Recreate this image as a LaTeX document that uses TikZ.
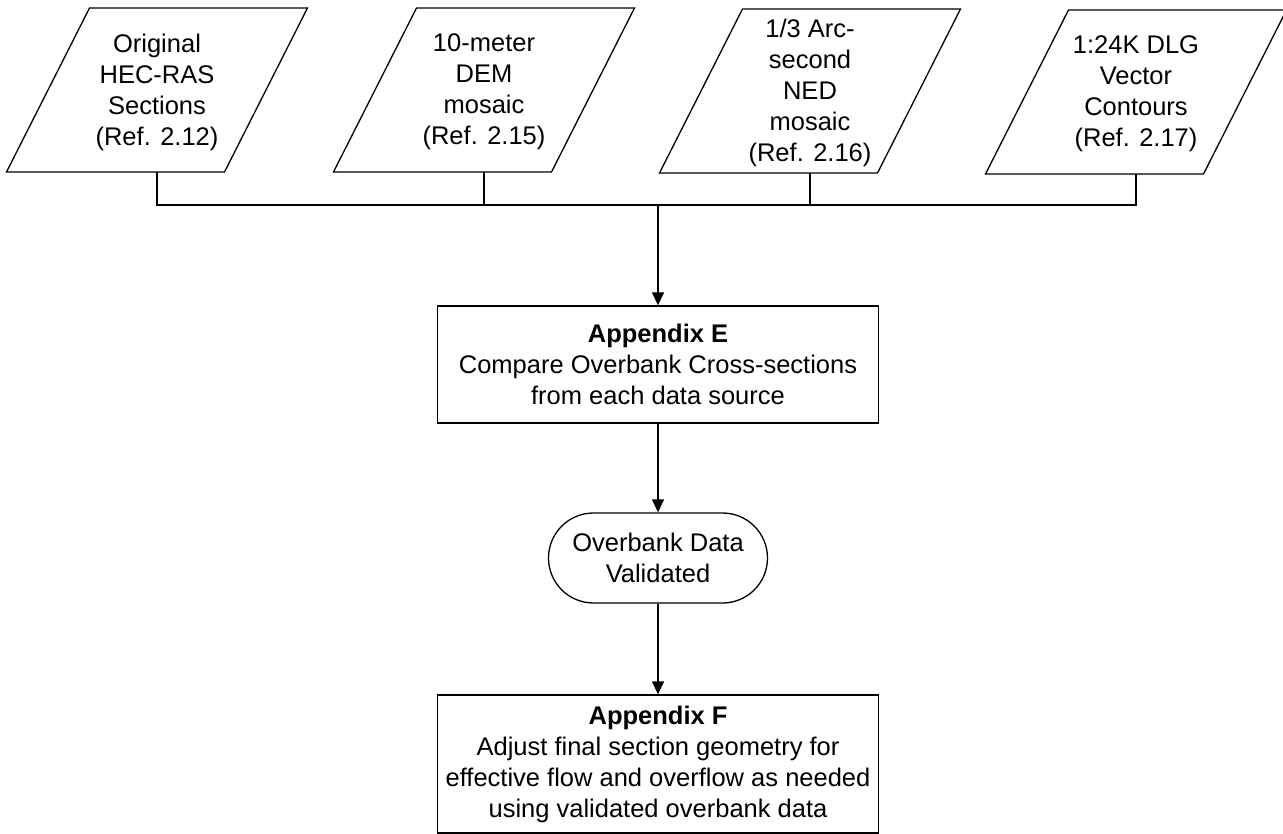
\documentclass[tikz,border=0pt]{standalone}
\usepackage{fontspec}
\setmainfont{Liberation Sans}
\usetikzlibrary{arrows.meta}
\begin{document}
\begin{tikzpicture}[x=1pt,y=-1pt,
  line width=1.3pt,
  txt/.style={font=\fontsize{25.5}{31}\selectfont, align=center, inner sep=0pt},
  procbox/.style={txt, draw, minimum width=441pt},
  termbox/.style={txt, draw, rounded corners=45pt, minimum width=219pt, minimum height=90pt},
  flow/.style={-{Triangle[length=13pt,width=12pt]}},
  ]
\useasboundingbox (0,0) rectangle (1283,834);

% input data sources: parallelograms with centred text
\foreach \nm/\cx/\cy/\label in {
    p1/157/90/{Original\\HEC-RAS\\Sections\\(Ref. 2.12)},
    p2/484/90/{10-meter\\DEM\\mosaic\\(Ref. 2.15)},
    p3/810/91/{1/3 Arc-\\second\\NED\\mosaic\\(Ref. 2.16)},
    p4/1136/92/{1:24K DLG\\Vector\\Contours\\(Ref. 2.17)}}{
  \draw (\cx-150.5,\cy+82) -- (\cx+67.5,\cy+82) -- (\cx+150.5,\cy-82)
        -- (\cx-67.5,\cy-82) -- cycle;
  \node[txt] (\nm) at (\cx,\cy+2) {\label};
  \coordinate (\nm b) at (\cx,\cy+82);
}

% processing steps
\node[procbox, minimum height=117pt] (appE) at (658,364.5)
  {\textbf{Appendix E}\\Compare Overbank Cross-sections\\from each data source};
\node[termbox] (valid) at (658,558) {Overbank Data\\Validated};
\node[procbox, minimum height=138pt] (appF) at (658,764)
  {\textbf{Appendix F}\\Adjust final section geometry for\\effective flow and overflow as needed\\using validated overbank data};

% collecting bus from the four sources
\coordinate (bus) at (0,205);
\draw (p1b) -- (p1b |- bus) -- (p4b |- bus) -- (p4b);
\draw (p2b) -- (p2b |- bus);
\draw (p3b) -- (p3b |- bus);

% flow arrows
\draw[flow] (appE.north |- bus) -- (appE.north);
\draw[flow] (appE.south) -- (valid.north);
\draw[flow] (valid.south) -- (appF.north);
\end{tikzpicture}
\end{document}
